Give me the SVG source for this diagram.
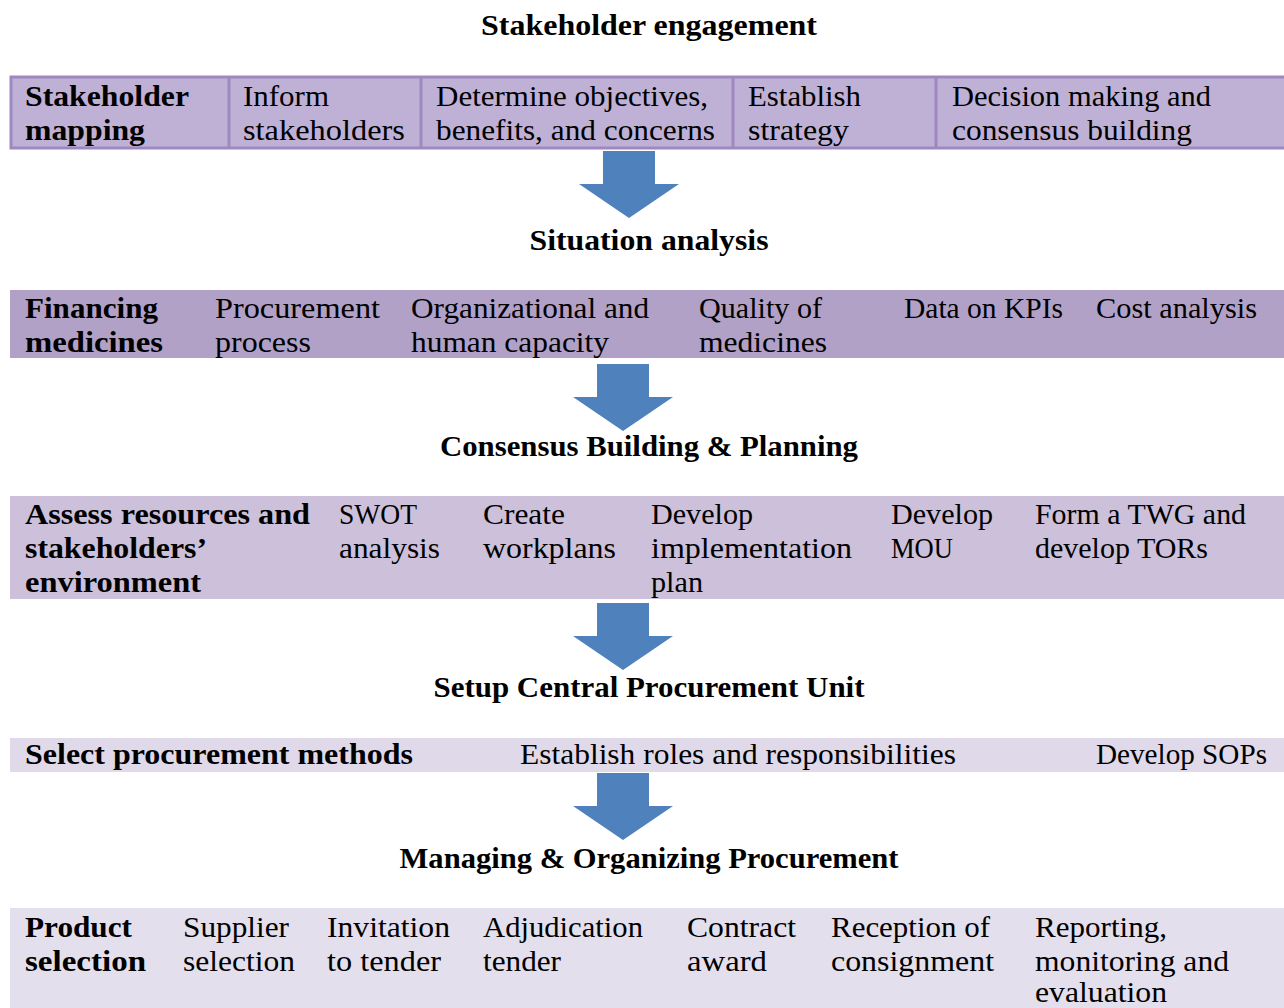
<svg xmlns="http://www.w3.org/2000/svg" width="1284" height="1008" viewBox="0 0 1284 1008">
<style>
text{font-family:"Liberation Serif","Times New Roman",serif;font-size:30px;fill:#000}
.b{font-weight:bold}
.t{font-weight:bold;text-anchor:middle}
.arrow{fill:#4f81bd}
</style>
<defs>
<path id="arr" d="M-26,0 H26 V33 H50 L0,67 L-50,33 H-26 Z"/>
</defs>
<rect width="1284" height="1008" fill="#fff"/>

<g id="title1"><text class="t" x="649" y="35" textLength="336" lengthAdjust="spacingAndGlyphs">Stakeholder engagement</text></g>

<g id="row1">
<rect x="11" y="77" width="1280" height="71" fill="#bfb1d5" stroke="#9f88c0" stroke-width="3"/>
<path d="M229,77V148M421,77V148M733,77V148M936,77V148" stroke="#9f88c0" stroke-width="3"/>
<text class="b" x="25" y="106" textLength="164" lengthAdjust="spacingAndGlyphs">Stakeholder</text>
<text class="b" x="25" y="140" textLength="120" lengthAdjust="spacingAndGlyphs">mapping</text>
<text x="243" y="106" textLength="86" lengthAdjust="spacingAndGlyphs">Inform</text>
<text x="243" y="140" textLength="162" lengthAdjust="spacingAndGlyphs">stakeholders</text>
<text x="436" y="106" textLength="272" lengthAdjust="spacingAndGlyphs">Determine objectives,</text>
<text x="436" y="140" textLength="279" lengthAdjust="spacingAndGlyphs">benefits, and concerns</text>
<text x="748" y="106" textLength="113" lengthAdjust="spacingAndGlyphs">Establish</text>
<text x="748" y="140" textLength="101" lengthAdjust="spacingAndGlyphs">strategy</text>
<text x="952" y="106" textLength="259" lengthAdjust="spacingAndGlyphs">Decision making and</text>
<text x="952" y="140" textLength="240" lengthAdjust="spacingAndGlyphs">consensus building</text>
</g>

<g id="connectors">
<use href="#arr" class="arrow" x="629" y="151"/>
<use href="#arr" class="arrow" x="623" y="364"/>
<use href="#arr" class="arrow" x="623" y="603"/>
<use href="#arr" class="arrow" x="623" y="773"/>
</g>

<g id="title2"><text class="t" x="649" y="250" textLength="239" lengthAdjust="spacingAndGlyphs">Situation analysis</text></g>

<g id="row2">
<rect x="10" y="290" width="1274" height="68" fill="#b2a1c7"/>
<text class="b" x="25" y="318" textLength="133" lengthAdjust="spacingAndGlyphs">Financing</text>
<text class="b" x="25" y="352" textLength="138" lengthAdjust="spacingAndGlyphs">medicines</text>
<text x="215" y="318" textLength="165" lengthAdjust="spacingAndGlyphs">Procurement</text>
<text x="215" y="352" textLength="96" lengthAdjust="spacingAndGlyphs">process</text>
<text x="411" y="318" textLength="238" lengthAdjust="spacingAndGlyphs">Organizational and</text>
<text x="411" y="352" textLength="198" lengthAdjust="spacingAndGlyphs">human capacity</text>
<text x="699" y="318" textLength="123" lengthAdjust="spacingAndGlyphs">Quality of</text>
<text x="699" y="352" textLength="128" lengthAdjust="spacingAndGlyphs">medicines</text>
<text x="904" y="318" textLength="159" lengthAdjust="spacingAndGlyphs">Data on KPIs</text>
<text x="1096" y="318" textLength="161" lengthAdjust="spacingAndGlyphs">Cost analysis</text>
</g>

<g id="title3"><text class="t" x="649" y="456" textLength="418" lengthAdjust="spacingAndGlyphs">Consensus Building &amp; Planning</text></g>

<g id="row3">
<rect x="10" y="496" width="1274" height="103" fill="#ccc0da"/>
<text class="b" x="25" y="524" textLength="285" lengthAdjust="spacingAndGlyphs">Assess resources and</text>
<text class="b" x="25" y="558" textLength="182" lengthAdjust="spacingAndGlyphs">stakeholders’</text>
<text class="b" x="25" y="592" textLength="176" lengthAdjust="spacingAndGlyphs">environment</text>
<text x="339" y="524" textLength="78" lengthAdjust="spacingAndGlyphs">SWOT</text>
<text x="339" y="558" textLength="101" lengthAdjust="spacingAndGlyphs">analysis</text>
<text x="483" y="524" textLength="82" lengthAdjust="spacingAndGlyphs">Create</text>
<text x="483" y="558" textLength="133" lengthAdjust="spacingAndGlyphs">workplans</text>
<text x="651" y="524" textLength="102" lengthAdjust="spacingAndGlyphs">Develop</text>
<text x="651" y="558" textLength="201" lengthAdjust="spacingAndGlyphs">implementation</text>
<text x="651" y="592" textLength="52" lengthAdjust="spacingAndGlyphs">plan</text>
<text x="891" y="524" textLength="102" lengthAdjust="spacingAndGlyphs">Develop</text>
<text x="891" y="558" textLength="62" lengthAdjust="spacingAndGlyphs">MOU</text>
<text x="1035" y="524" textLength="211" lengthAdjust="spacingAndGlyphs">Form a TWG and</text>
<text x="1035" y="558" textLength="173" lengthAdjust="spacingAndGlyphs">develop TORs</text>
</g>

<g id="title4"><text class="t" x="649" y="697" textLength="431" lengthAdjust="spacingAndGlyphs">Setup Central Procurement Unit</text></g>

<g id="row4">
<rect x="10" y="738" width="1274" height="34" fill="#e0d9ea"/>
<text class="b" x="25" y="764" textLength="388" lengthAdjust="spacingAndGlyphs">Select procurement methods</text>
<text x="520" y="764" textLength="436" lengthAdjust="spacingAndGlyphs">Establish roles and responsibilities</text>
<text x="1096" y="764" textLength="171" lengthAdjust="spacingAndGlyphs">Develop SOPs</text>
</g>

<g id="title5"><text class="t" x="649" y="868" textLength="499" lengthAdjust="spacingAndGlyphs">Managing &amp; Organizing Procurement</text></g>

<g id="row5">
<rect x="10" y="908" width="1274" height="100" fill="#e4dfec"/>
<text class="b" x="25" y="937" textLength="107" lengthAdjust="spacingAndGlyphs">Product</text>
<text class="b" x="25" y="971" textLength="121" lengthAdjust="spacingAndGlyphs">selection</text>
<text x="183" y="937" textLength="106" lengthAdjust="spacingAndGlyphs">Supplier</text>
<text x="183" y="971" textLength="112" lengthAdjust="spacingAndGlyphs">selection</text>
<text x="327" y="937" textLength="123" lengthAdjust="spacingAndGlyphs">Invitation</text>
<text x="327" y="971" textLength="114" lengthAdjust="spacingAndGlyphs">to tender</text>
<text x="483" y="937" textLength="160" lengthAdjust="spacingAndGlyphs">Adjudication</text>
<text x="483" y="971" textLength="78" lengthAdjust="spacingAndGlyphs">tender</text>
<text x="687" y="937" textLength="109" lengthAdjust="spacingAndGlyphs">Contract</text>
<text x="687" y="971" textLength="80" lengthAdjust="spacingAndGlyphs">award</text>
<text x="831" y="937" textLength="159" lengthAdjust="spacingAndGlyphs">Reception of</text>
<text x="831" y="971" textLength="163" lengthAdjust="spacingAndGlyphs">consignment</text>
<text x="1035" y="937" textLength="132" lengthAdjust="spacingAndGlyphs">Reporting,</text>
<text x="1035" y="971" textLength="194" lengthAdjust="spacingAndGlyphs">monitoring and</text>
<text x="1035" y="1002" textLength="132" lengthAdjust="spacingAndGlyphs">evaluation</text>
</g>
</svg>
